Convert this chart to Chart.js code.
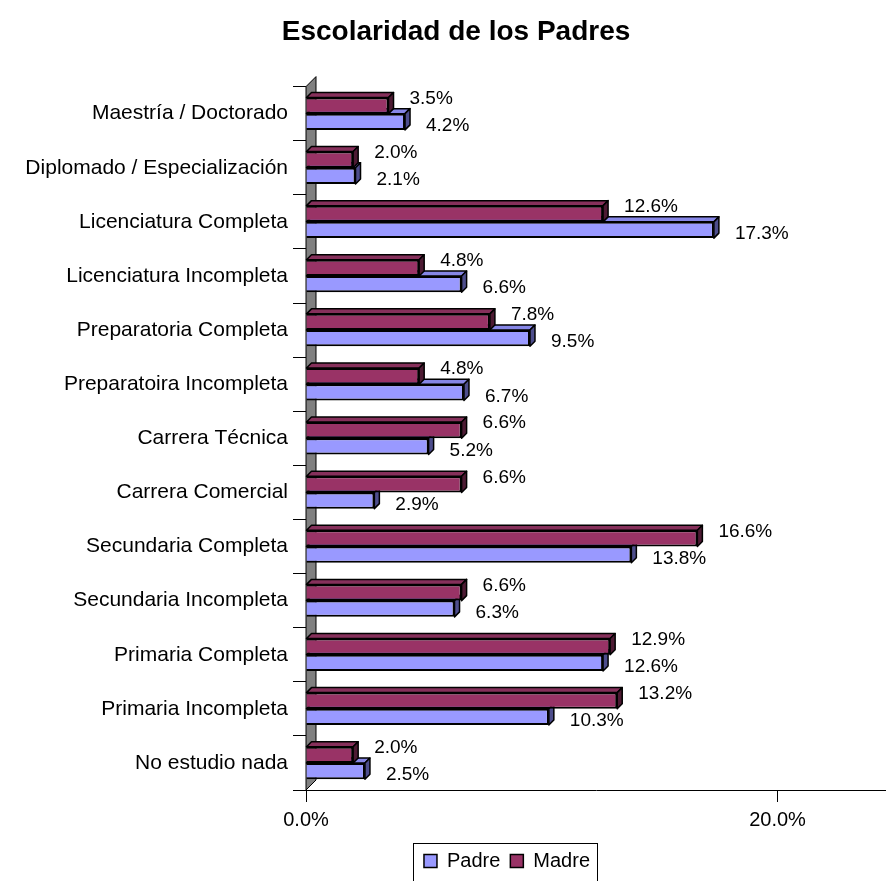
<!DOCTYPE html>
<html>
<head>
<meta charset="utf-8">
<script src="https://cdn.jsdelivr.net/npm/chart.js@4"></script>
<style>
  body { margin: 0; background: #fff; }
  #wrap { width: 886px; height: 881px; }
</style>
</head>
<body>
<div id="wrap"><canvas id="escolaridadChart"></canvas></div>
<script>
// Datos del gráfico
const categories = [
    'Maestría / Doctorado',
    'Diplomado / Especialización',
    'Licenciatura Completa',
    'Licenciatura Incompleta',
    'Preparatoria Completa',
    'Preparatoira Incompleta',
    'Carrera Técnica',
    'Carrera Comercial',
    'Secundaria Completa',
    'Secundaria Incompleta',
    'Primaria Completa',
    'Primaria Incompleta',
    'No estudio nada'
];
const madreValues = [3.5, 2.0, 12.6, 4.8, 7.8, 4.8, 6.6, 6.6, 16.6, 6.6, 12.9, 13.2, 2.0];
const padreValues = [4.2, 2.1, 17.3, 6.6, 9.5, 6.7, 5.2, 2.9, 13.8, 6.3, 12.6, 10.3, 2.5];
const xTickValues = [0, 20];

const FONT = 'Liberation Sans, Arial, sans-serif';
const DEPTH = 5;

// pared gris 3D del eje vertical
const wallPlugin = {
    id: 'wall',
    beforeDatasetsDraw(chart) {
        const {ctx, chartArea: a} = chart;
        const d = 10;
        ctx.save();
        ctx.beginPath();
        ctx.moveTo(a.left, a.bottom);
        ctx.lineTo(a.left, a.top);
        ctx.lineTo(a.left + d, a.top - d);
        ctx.lineTo(a.left + d, a.bottom - d);
        ctx.closePath();
        ctx.fillStyle = '#808080';
        ctx.fill();
        ctx.strokeStyle = '#000';
        ctx.lineWidth = 1;
        ctx.stroke();
        ctx.restore();
    }
};

// caras superior y lateral de cada barra
const bar3dPlugin = {
    id: 'bar3d',
    afterDatasetDraw(chart, args) {
        const ctx = chart.ctx;
        const ds = chart.data.datasets[args.index];
        ctx.save();
        ctx.strokeStyle = '#000';
        ctx.lineWidth = 1.5;
        ctx.lineJoin = 'round';
        args.meta.data.forEach(bar => {
            const {x, y, base, height} = bar.getProps(['x', 'y', 'base', 'height'], true);
            const top = y - height / 2;
            const bottom = y + height / 2;
            ctx.beginPath();
            ctx.moveTo(base, top);
            ctx.lineTo(base + DEPTH, top - DEPTH);
            ctx.lineTo(x + DEPTH, top - DEPTH);
            ctx.lineTo(x, top);
            ctx.closePath();
            ctx.fillStyle = ds.topColor;
            ctx.fill();
            ctx.stroke();
            ctx.beginPath();
            ctx.moveTo(x, top);
            ctx.lineTo(x + DEPTH, top - DEPTH);
            ctx.lineTo(x + DEPTH, bottom - DEPTH);
            ctx.lineTo(x, bottom);
            ctx.closePath();
            ctx.fillStyle = ds.sideColor;
            ctx.fill();
            ctx.stroke();
        });
        ctx.restore();
    }
};

// etiquetas de porcentaje
const valueLabelPlugin = {
    id: 'valueLabels',
    afterDatasetsDraw(chart) {
        const ctx = chart.ctx;
        ctx.save();
        ctx.font = '19px ' + FONT;
        ctx.fillStyle = '#000';
        ctx.textAlign = 'left';
        ctx.textBaseline = 'middle';
        chart.data.datasets.forEach((ds, i) => {
            chart.getDatasetMeta(i).data.forEach((bar, j) => {
                const dy = i === 0 ? -7 : 4;
                ctx.fillText(ds.data[j].toFixed(1) + '%', bar.x + 21, bar.y + dy);
            });
        });
        ctx.restore();
    }
};

// mover la leyenda y dibujar su marco
const legendBoxPlugin = {
    id: 'legendBox',
    afterLayout(chart) {
        chart.legend.left += 51;
        chart.legend.right += 51;
    },
    afterDraw(chart) {
        const boxes = chart.legend.legendHitBoxes;
        if (!boxes || !boxes.length) return;
        const first = boxes[0];
        const last = boxes[boxes.length - 1];
        const ctx = chart.ctx;
        ctx.save();
        ctx.strokeStyle = '#000';
        ctx.lineWidth = 1;
        ctx.strokeRect(Math.round(first.left - 11) + 0.5, Math.round(chart.legend.top + 2) + 0.5,
            Math.round(last.left + last.width - first.left + 18), 60);
        ctx.restore();
    }
};

new Chart(document.getElementById('escolaridadChart'), {
    type: 'bar',
    data: {
        labels: categories,
        datasets: [
            {
                label: 'Madre',
                data: madreValues,
                backgroundColor: '#993366',
                borderColor: '#000',
                borderWidth: 2,
                topColor: '#86305b',
                sideColor: '#4d1a33'
            },
            {
                label: 'Padre',
                data: padreValues,
                backgroundColor: '#9999FF',
                borderColor: '#000',
                borderWidth: 2,
                topColor: '#8686e6',
                sideColor: '#4d4d8c'
            }
        ]
    },
    options: {
        indexAxis: 'y',
        responsive: true,
        maintainAspectRatio: false,
        animation: false,
        layout: {
            padding: { left: 26, right: 0, top: 0, bottom: 0 }
        },
        datasets: {
            bar: {
                categoryPercentage: 0.6,
                barPercentage: 1.0
            }
        },
        scales: {
            x: {
                min: 0,
                max: 24.6,
                afterBuildTicks: scale => {
                    scale.ticks = xTickValues.map(v => ({ value: v }));
                },
                afterFit: scale => { scale.height = 51; },
                grid: {
                    drawOnChartArea: false,
                    drawTicks: true,
                    tickLength: 12,
                    color: '#000'
                },
                border: { display: true, color: '#000' },
                ticks: {
                    padding: 6,
                    color: '#000',
                    font: { family: FONT, size: 20 },
                    callback: v => v.toFixed(1) + '%'
                }
            },
            y: {
                afterFit: scale => { scale.width = 280; },
                grid: {
                    drawOnChartArea: false,
                    drawTicks: true,
                    tickLength: 13,
                    color: '#000'
                },
                border: { display: true, color: '#000' },
                ticks: {
                    padding: 5,
                    color: '#000',
                    font: { family: FONT, size: 21 }
                }
            }
        },
        plugins: {
            title: {
                display: true,
                text: 'Escolaridad de los Padres',
                color: '#000',
                font: { family: FONT, size: 28, weight: 'bold' },
                padding: { top: 15, bottom: 38 }
            },
            legend: {
                position: 'bottom',
                reverse: true,
                labels: {
                    color: '#000',
                    boxWidth: 13,
                    boxHeight: 13,
                    padding: 10,
                    font: { family: FONT, size: 20 },
                    generateLabels: chart => {
                        const items = Chart.defaults.plugins.legend.labels.generateLabels(chart);
                        items.forEach(it => { it.lineWidth = 1.5; it.strokeStyle = '#000'; });
                        return items;
                    }
                }
            },
            tooltip: { enabled: false }
        }
    },
    plugins: [wallPlugin, bar3dPlugin, valueLabelPlugin, legendBoxPlugin]
});
</script>
</body>
</html>
